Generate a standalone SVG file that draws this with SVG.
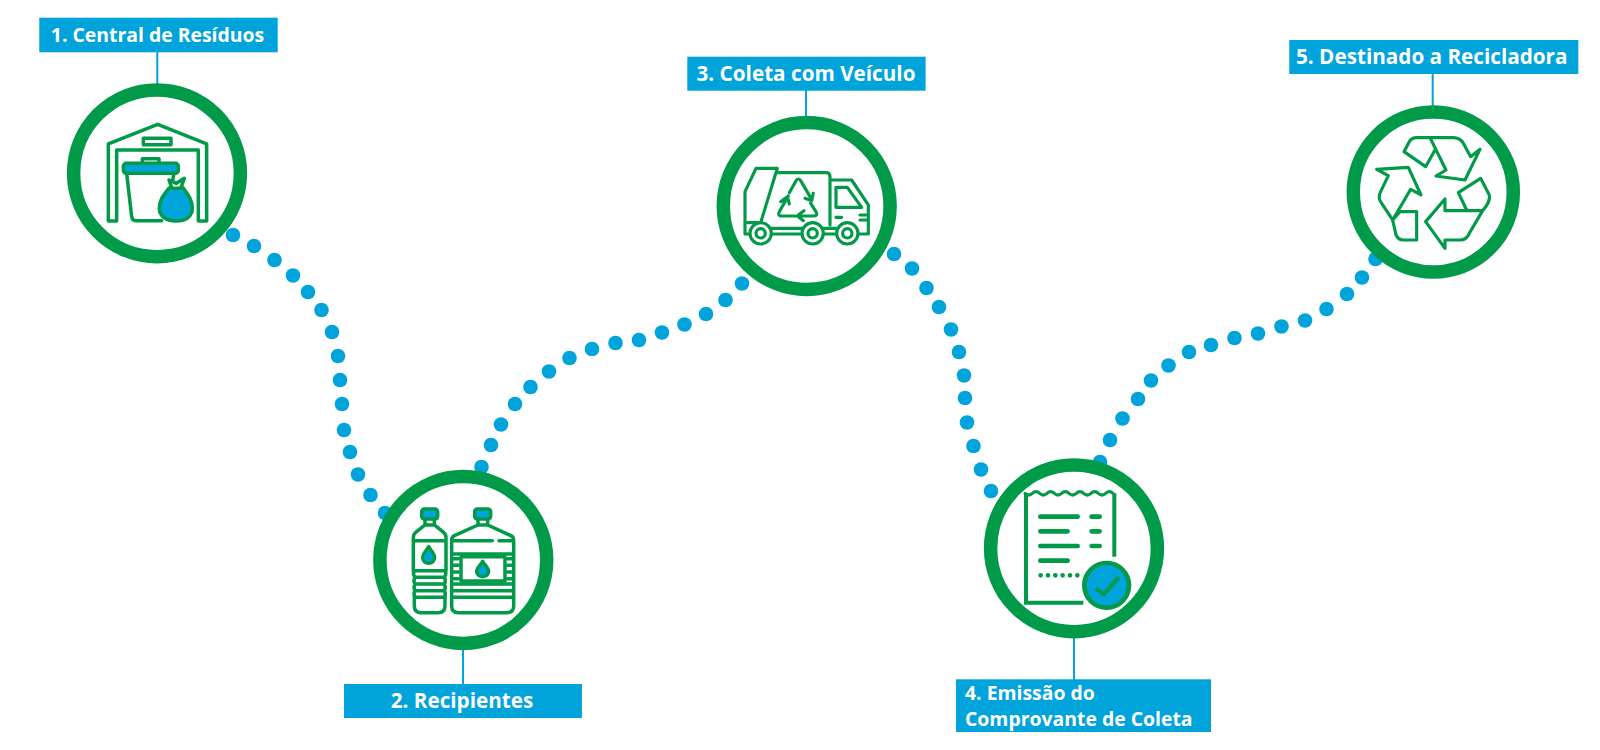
<svg xmlns="http://www.w3.org/2000/svg" width="1600" height="750" viewBox="0 0 1600 750">
<style>
.lab{fill:#00a3da}
.stem{stroke:#00a3da;stroke-width:2;fill:none}
.ring{fill:#fff;stroke:#009a49;stroke-width:13.5}
.t{font-family:"Open Sans","Noto Sans",sans-serif;font-weight:700;font-size:20.7px;fill:#fff}
.sm{font-size:19.4px}
.ic{fill:none;stroke:#009a49;stroke-width:10.5;stroke-linejoin:round;stroke-linecap:round}
.s7{stroke-width:9.5}
.s11{stroke-width:12;stroke-linecap:butt;stroke-linejoin:miter}
.s13{stroke-width:14}
.d{stroke-dasharray:0 22}
.b{fill:#00a3da}
.w{fill:#fff}
.dots circle{fill:#00a3da;r:7.300px}
</style>
<rect width="1600" height="750" fill="#fff"/>
<g id="connectors" class="dots">
<circle cx="233" cy="235"/><circle cx="254" cy="246"/><circle cx="274.500" cy="260"/><circle cx="293" cy="275.500"/><circle cx="308" cy="292"/><circle cx="321.500" cy="310"/><circle cx="332" cy="332"/><circle cx="338" cy="356"/><circle cx="340" cy="380"/><circle cx="342" cy="404"/><circle cx="344" cy="430"/><circle cx="350" cy="452"/><circle cx="358" cy="474.500"/><circle cx="370.500" cy="495"/><circle cx="385" cy="513"/>
<circle cx="481.500" cy="467"/><circle cx="491" cy="445"/><circle cx="501" cy="424.500"/><circle cx="515" cy="404"/><circle cx="530.500" cy="387"/><circle cx="549" cy="371.500"/><circle cx="569.500" cy="358"/><circle cx="592" cy="349"/><circle cx="615.500" cy="343"/><circle cx="639" cy="340"/><circle cx="662" cy="332.500"/><circle cx="684.500" cy="324.500"/><circle cx="706" cy="314"/><circle cx="725.500" cy="300"/><circle cx="742" cy="283.500"/>
<circle cx="894" cy="254"/><circle cx="912" cy="268.500"/><circle cx="926.500" cy="288"/><circle cx="939" cy="307"/><circle cx="951" cy="329.500"/><circle cx="959" cy="352"/><circle cx="964" cy="375.500"/><circle cx="965" cy="398"/><circle cx="967" cy="422.500"/><circle cx="973.500" cy="446"/><circle cx="981" cy="469.500"/><circle cx="991" cy="491"/>
<circle cx="1100" cy="462"/><circle cx="1110" cy="440"/><circle cx="1122.500" cy="418.500"/><circle cx="1138" cy="399"/><circle cx="1151" cy="380.500"/><circle cx="1168.500" cy="365.500"/><circle cx="1189" cy="352"/><circle cx="1211" cy="345"/><circle cx="1234.500" cy="338"/><circle cx="1258" cy="333.500"/><circle cx="1281.500" cy="326.500"/><circle cx="1305" cy="320.500"/><circle cx="1326.500" cy="309"/><circle cx="1347" cy="294"/><circle cx="1362" cy="277.500"/><circle cx="1375.500" cy="259"/>
</g>
<g id="stems">
<path class="stem" d="M157.300 52V84M463 650V684M806 90V116M1074 638V680M1432.700 74V106"/>
</g>
<g id="node1">
<circle class="ring" cx="157" cy="173.300" r="83.400"/>
<g transform="translate(105,120) scale(.3333)">
<path class="ic" d="M10 303V72L158 13L305 72V303H280V90H35V303Z"/>
<rect class="ic" x="115" y="55" width="83" height="19"/>
<path class="ic" d="M112 130V116H162V130"/>
<path class="ic" d="M65 160L80 290Q82 302 92 302H170M207 160L203 182"/>
<rect class="ic b" x="55" y="130" width="165" height="30" rx="9"/>
<path class="b" d="M180 290Q213 320 246 290Z"/>
<path class="ic b" d="M192 205C175 225 163 240 163 265C163 290 185 303 213 303C242 303 262 290 262 265C262 240 250 225 235 205Z"/>
<path class="ic w" d="M192 205H235M200 203L192 180L214 190L238 175L228 203"/>
</g>
<rect class="lab" x="39.300" y="17.700" width="238.400" height="34.600"/>
<text class="t sm" x="157.500" y="41.500" text-anchor="middle">1. Central de Resíduos</text>
</g>
<g id="node2">
<circle class="ring" cx="463.300" cy="560" r="83.400"/>
<g transform="translate(405,500) scale(.3333)">
<rect class="ic b" x="50" y="27" width="48" height="30" rx="8"/>
<path class="ic" d="M60 57V75H88V57M60 75L32 97Q25 103 25 112V212M88 75L116 97Q123 103 123 112V212M25 122H123M25 212H123"/>
<path class="ic" d="M30 232H118Q124 242 118 252H30Q24 242 30 232ZM30 272H118Q124 282 118 292H30Q24 282 30 272ZM28 212Q22 222 30 232M120 212Q126 222 118 232M30 252Q24 262 30 272M118 252Q124 262 118 272"/>
<path class="ic" d="M28 292V318Q28 338 48 338H100Q120 338 120 318V292"/>
<path class="ic b" d="M71 140C63 153 53 162 53 172C53 183 61 190 71 190C81 190 89 183 89 172C89 162 79 153 71 140Z"/>
<rect class="ic b" x="209" y="27" width="48" height="30" rx="8"/>
<path class="ic" d="M219 57V75H248V57M219 75L148 107Q140 111 140 122V318Q140 338 160 338H306Q326 338 326 318V122Q326 111 318 107L248 75M140 122H262M282 122H326M140 162H326M140 252H326M140 272H326M140 292H326"/>
<rect class="ic" x="168" y="170" width="132" height="73"/>
<path class="ic" d="M147 176H160M147 196H160M147 216H160M147 236H160M307 176H320M307 196H320M307 216H320M307 236H320"/>
<path class="ic b" d="M233 184C226 196 215 205 215 214C215 224 223 230 233 230C243 230 251 224 251 214C251 205 240 196 233 184Z"/>
</g>
<rect class="lab" x="344" y="684" width="238" height="34"/>
<text class="t" x="462" y="708" text-anchor="middle">2. Recipientes</text>
</g>
<g id="node3">
<circle class="ring" cx="806.700" cy="206" r="83.400"/>
<g transform="translate(740,160) scale(.3333)">
<path class="ic s7" d="M48 25H112L62 188H15V95ZM108 38H258Q270 38 270 50V195M270 60H335L385 135V222H352M288 82H322L365 142H288ZM288 172H305M360 165H385V180H360M15 188V222H26M92 205H188M248 205H292M92 222H188M248 222H292"/>
<circle class="ic s7 w" cx="62" cy="220" r="32"/><circle class="ic s7" cx="62" cy="220" r="14"/>
<circle class="ic s7 w" cx="218" cy="220" r="32"/><circle class="ic s7" cx="218" cy="220" r="14"/>
<circle class="ic s7 w" cx="322" cy="220" r="32"/><circle class="ic s7" cx="322" cy="220" r="14"/>
<path class="ic s7" d="M148 98L168 62Q175 52 182 62L215 118M195 115L215 122L220 100M145 108L118 155Q112 168 125 168H165M122 125L142 110L148 132M212 130L228 155Q235 168 220 168H172M192 152L172 167L190 182"/>
</g>
<rect class="lab" x="687.300" y="56.700" width="238.300" height="34"/>
<text class="t" x="806" y="80.500" text-anchor="middle">3. Coleta com Veículo</text>
</g>
<g id="node4">
<circle class="ring" cx="1074" cy="548.300" r="83.400"/>
<g transform="translate(930,440) scale(.3333)">
<path class="ic s11" d="M553 160V350M288 160V488H460"/>
<path class="ic s7" d="M285 160q11 10 22 0t22 0t22 0t22 0t22 0t22 0t22 0t22 0t22 0t22 0t22 0t22 0"/>
<path class="ic s13" d="M331 230H443M485 230H509M331 274H413M485 274H509M331 318H443M485 318H509M331 362H413"/>
<path class="ic s13 d" d="M332 406H445"/>
<circle class="ic s13 b" cx="530" cy="436" r="67"/>
<path class="ic s11" d="M497 445L522 463L566 412"/>
</g>
<rect class="lab" x="956" y="679.300" width="255" height="52.700"/>
<text class="t sm" x="965" y="699.500">4. Emissão do</text>
<text class="t sm" x="965" y="725.500">Comprovante de Coleta</text>
</g>
<g id="node5">
<circle class="ring" cx="1433.300" cy="192" r="80"/>
<g transform="translate(1260,30) scale(.3333)">
<path class="ic s7" d="M510 323H580Q600 323 610 340L632 380L660 358L615 450L528 438L558 420ZM510 323H470Q455 323 448 335L432 365L497 410L525 360M350 418L445 412L483 495L452 478L398 570L365 520Q352 505 362 485L385 437ZM398 570L420 545H470V630H430Q415 630 408 615ZM555 507V542H668L628 610Q620 630 600 630H555V655L497 575ZM668 542Q692 515 688 495L662 445L595 488L620 540"/>
</g>
<rect class="lab" x="1289.300" y="40" width="289" height="34"/>
<text class="t" x="1296" y="64">5. Destinado a Recicladora</text>
</g>
</svg>
